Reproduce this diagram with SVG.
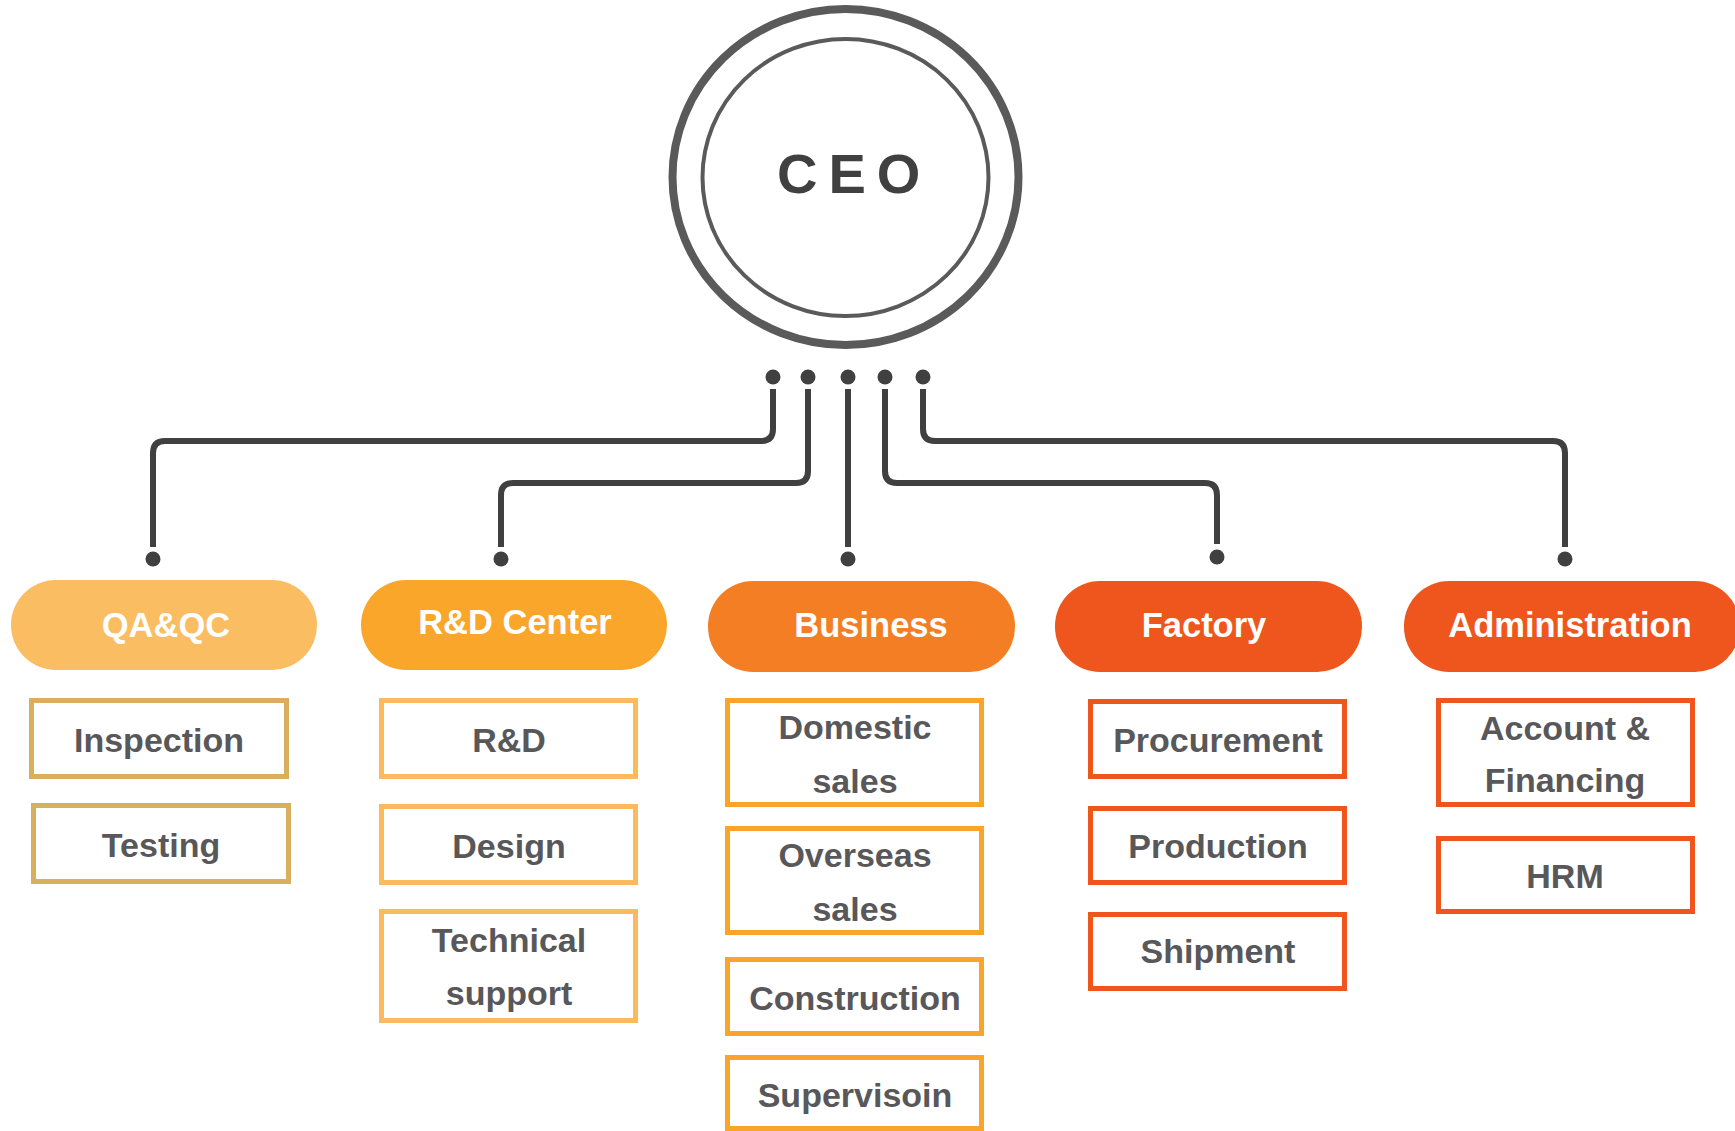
<svg xmlns="http://www.w3.org/2000/svg" width="1735" height="1131" viewBox="0 0 1735 1131">
<style>
.bg{fill:#ffffff}
.ring{fill:none;stroke:#5a5a5a}
.ceo{font-family:"Liberation Sans",Arial,sans-serif;font-weight:bold;font-size:56px;fill:#404040;letter-spacing:11px}
.conn{fill:none;stroke:#404040;stroke-width:6;stroke-linecap:butt}
.dot{fill:#404040}
.pill-t{font-family:"Liberation Sans",Arial,sans-serif;font-weight:bold;font-size:34.5px;fill:#ffffff;text-anchor:middle}
.box{fill:#ffffff;stroke-width:5}
.box-t{font-family:"Liberation Sans",Arial,sans-serif;font-weight:bold;font-size:34px;fill:#58585a;text-anchor:middle}
.c1{stroke:#d9af5f}
.c2{stroke:#fbba5e}
.c3{stroke:#f9a52b}
.c4{stroke:#ef561e}
</style>
<rect class="bg" x="0" y="0" width="1735" height="1131"/>

<g id="ceo">
<ellipse class="ring" cx="845.5" cy="177" rx="173" ry="168" stroke-width="8"/>
<ellipse class="ring" cx="845.5" cy="177.5" rx="143" ry="138.5" stroke-width="4"/>
<text class="ceo" x="777" y="193">CEO</text>
</g>

<g id="connectors">
<path class="conn" d="M773,389 V429 Q773,441 761,441 H165 Q153,441 153,453 V547"/>
<path class="conn" d="M808,389 V471 Q808,483 796,483 H513 Q501,483 501,495 V547"/>
<path class="conn" d="M848,389 V547"/>
<path class="conn" d="M885,389 V471 Q885,483 897,483 H1205 Q1217,483 1217,495 V544"/>
<path class="conn" d="M923,389 V429 Q923,441 935,441 H1553 Q1565,441 1565,453 V547"/>
<circle class="dot" cx="773" cy="377" r="7.5"/>
<circle class="dot" cx="808" cy="377" r="7.5"/>
<circle class="dot" cx="848" cy="377" r="7.5"/>
<circle class="dot" cx="885" cy="377" r="7.5"/>
<circle class="dot" cx="923" cy="377" r="7.5"/>
<circle class="dot" cx="153" cy="559" r="7.5"/>
<circle class="dot" cx="501" cy="559" r="7.5"/>
<circle class="dot" cx="848" cy="559" r="7.5"/>
<circle class="dot" cx="1217" cy="557" r="7.5"/>
<circle class="dot" cx="1565" cy="559" r="7.5"/>
</g>

<g id="qaqc">
<rect x="11" y="580" width="306" height="90" rx="45" ry="45" fill="#fbbd61"/>
<text class="pill-t" x="166" y="637">QA&amp;QC</text>
</g>
<g id="rdcenter">
<rect x="361" y="580" width="306" height="90" rx="45" ry="45" fill="#f9a62b"/>
<text class="pill-t" x="515" y="634">R&amp;D Center</text>
</g>
<g id="business">
<rect x="708" y="581" width="307" height="91" rx="45" ry="45" fill="#f47e23"/>
<text class="pill-t" x="871" y="637">Business</text>
</g>
<g id="factory">
<rect x="1055" y="581" width="307" height="91" rx="45" ry="45" fill="#ef561e"/>
<text class="pill-t" x="1204" y="637">Factory</text>
</g>
<g id="administration">
<rect x="1404" y="581" width="336" height="91" rx="45" ry="45" fill="#ef561e"/>
<text class="pill-t" x="1570" y="637">Administration</text>
</g>

<g id="inspection">
<rect class="box c1" x="31.5" y="700.5" width="255" height="76"/>
<text class="box-t" x="159" y="752">Inspection</text>
</g>
<g id="testing">
<rect class="box c1" x="33.5" y="805.5" width="255" height="76"/>
<text class="box-t" x="161" y="857">Testing</text>
</g>

<g id="rd">
<rect class="box c2" x="381.5" y="700.5" width="254" height="76"/>
<text class="box-t" x="509" y="752">R&amp;D</text>
</g>
<g id="design">
<rect class="box c2" x="381.5" y="806.5" width="254" height="76"/>
<text class="box-t" x="509" y="858">Design</text>
</g>
<g id="technical-support">
<rect class="box c2" x="381.5" y="911.5" width="254" height="109"/>
<text class="box-t" x="509" y="952">Technical</text>
<text class="box-t" x="509" y="1005">support</text>
</g>

<g id="domestic-sales">
<rect class="box c3" x="727.5" y="700.5" width="254" height="104"/>
<text class="box-t" x="855" y="739">Domestic</text>
<text class="box-t" x="855" y="793">sales</text>
</g>
<g id="overseas-sales">
<rect class="box c3" x="727.5" y="828.5" width="254" height="104"/>
<text class="box-t" x="855" y="867">Overseas</text>
<text class="box-t" x="855" y="921">sales</text>
</g>
<g id="construction">
<rect class="box c3" x="727.5" y="959.5" width="254" height="74"/>
<text class="box-t" x="855" y="1010">Construction</text>
</g>
<g id="supervisoin">
<rect class="box c3" x="727.5" y="1057.5" width="254" height="71"/>
<text class="box-t" x="855" y="1107">Supervisoin</text>
</g>

<g id="procurement">
<rect class="box c4" x="1090.5" y="701.5" width="254" height="75"/>
<text class="box-t" x="1218" y="752">Procurement</text>
</g>
<g id="production">
<rect class="box c4" x="1090.5" y="808.5" width="254" height="74"/>
<text class="box-t" x="1218" y="858">Production</text>
</g>
<g id="shipment">
<rect class="box c4" x="1090.5" y="914.5" width="254" height="74"/>
<text class="box-t" x="1218" y="963">Shipment</text>
</g>

<g id="account-financing">
<rect class="box c4" x="1438.5" y="700.5" width="254" height="104"/>
<text class="box-t" x="1565" y="740">Account &amp;</text>
<text class="box-t" x="1565" y="792">Financing</text>
</g>
<g id="hrm">
<rect class="box c4" x="1438.5" y="838.5" width="254" height="73"/>
<text class="box-t" x="1565" y="888">HRM</text>
</g>
</svg>
